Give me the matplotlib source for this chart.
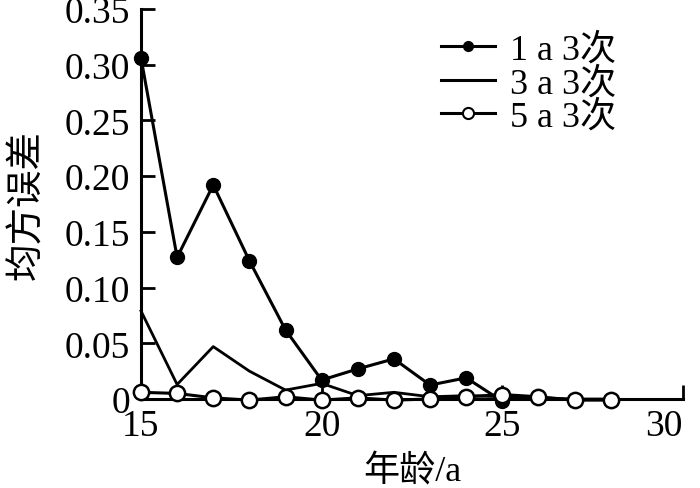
import matplotlib
matplotlib.use('Agg')
import matplotlib.pyplot as plt
from matplotlib.lines import Line2D

plt.rcParams['font.family'] = ['Liberation Serif', 'Noto Sans CJK SC']

ages_1 = [15, 16, 17, 18, 19, 20, 21, 22, 23, 24, 25]
mse_1 = [0.306, 0.127, 0.192, 0.124, 0.062, 0.017, 0.027, 0.036, 0.0125, 0.019, -0.002]

ages_3 = [15, 16, 17, 18, 19, 20, 21, 22, 23, 24, 25, 26, 27, 28]
mse_3 = [0.079, 0.013, 0.047, 0.025, 0.008, 0.014, 0.003, 0.006, 0.002, 0.003, 0.002, 0.001, 0.0, 0.0]

ages_5 = [15, 16, 17, 18, 19, 20, 21, 22, 23, 24, 25, 26, 27, 28]
mse_5 = [0.006, 0.005, 0.001, -0.001, 0.002, -0.001, 0.001, -0.001, 0.0, 0.002, 0.004, 0.002, -0.001, -0.001]

labels = ['1 a 3次', '3 a 3次', '5 a 3次']
xticks = [15, 20, 25, 30]
yticks = [0, 0.05, 0.10, 0.15, 0.20, 0.25, 0.30, 0.35]
ytick_labels = ['0', '0.05', '0.10', '0.15', '0.20', '0.25', '0.30', '0.35']

fig = plt.figure(figsize=(7, 4.89), dpi=100)
ax = fig.add_axes([0.2014, 0.182, 0.7743, 0.798])

ax.plot(ages_3, mse_3, color='black', lw=2.0, clip_on=False, zorder=2)
ax.plot(ages_1, mse_1, color='black', lw=2.2, marker='o', ms=10,
        mfc='black', mec='black', clip_on=False, zorder=3)
ax.plot(ages_5, mse_5, color='black', lw=2.2, marker='o', ms=11,
        mfc='white', mec='black', mew=1.8, clip_on=False, zorder=4)

ax.set_xlim(15, 30)
ax.set_ylim(0, 0.35)
ax.set_xticks(xticks)
ax.set_xticklabels([str(t) for t in xticks])
ax.set_yticks(yticks)
ax.set_yticklabels(ytick_labels)
ax.tick_params(direction='in', length=10, width=2, labelsize=27, pad=8)
ax.tick_params(axis='x', pad=7)
# last x label sits left of its tick so it stays inside the picture
last = ax.get_xticklabels()[-1]
last.set_horizontalalignment('right')
for s in ['top', 'right']:
    ax.spines[s].set_visible(False)
for s in ['left', 'bottom']:
    ax.spines[s].set_linewidth(2.2)

ax.set_xlabel('年龄/a', fontsize=26, labelpad=8)
ax.set_ylabel('均方误差', fontsize=27, labelpad=14)

handles = [
    Line2D([], [], color='black', lw=2.2, marker='o', ms=7, mfc='black'),
    Line2D([], [], color='black', lw=2.2),
    Line2D([], [], color='black', lw=2.2, marker='o', ms=8, mfc='white', mew=1.5),
]
fig.legend(handles, labels, loc='upper right', bbox_to_anchor=(0.88, 0.93),
           frameon=False, fontsize=26, handlelength=1.5, handletextpad=0.4,
           labelspacing=0.0, borderaxespad=0, borderpad=0)

fig.savefig('out.png', dpi=100)
